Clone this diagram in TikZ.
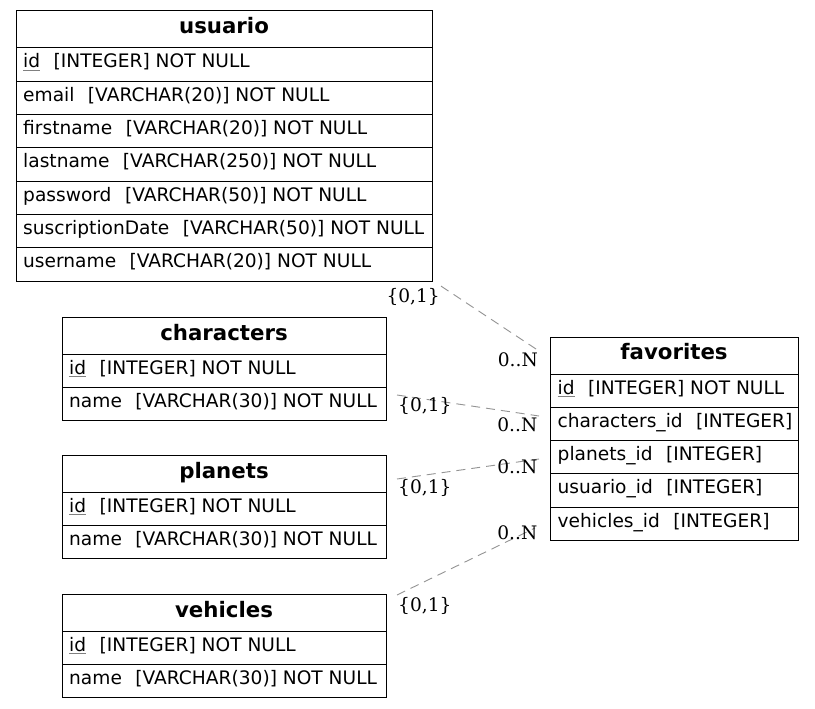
\documentclass[tikz,border=0pt]{standalone}
\usepackage{fontspec}
\setmainfont{DejaVu Sans}
\newfontfamily\cardfont{DejaVu Serif}
\usetikzlibrary{calc}
\newcommand\pkid{\setbox0\hbox{id}\rlap{\textcolor{gray}{\rule[-2.5pt]{\wd0}{1pt}}}\box0}
\newcommand\gap{\hspace{13.5pt}}
\tikzset{
  tbl/.style={draw=black, line width=1pt, inner sep=0pt, outer sep=0pt, anchor=north west},
  ttl/.style={font=\fontsize{21.3pt}{24pt}\selectfont\bfseries, anchor=base, inner sep=0pt},
  fld/.style={font=\fontsize{18.6pt}{22pt}\selectfont, anchor=base west, inner sep=0pt},
  sep/.style={draw=black, line width=1pt},
  rel/.style={draw=gray!85, dash pattern=on 9pt off 6pt, line width=0.9pt},
  card/.style={font=\fontsize{18.6pt}{22pt}\selectfont\cardfont, inner sep=0pt}
}
\begin{document}
\begin{tikzpicture}[x=1pt,y=-1pt]
\useasboundingbox (0,0) rectangle (815,709);
\fill[white] (0,0) rectangle (815,709);

% usuario
\node[tbl, minimum width=416pt, minimum height=270.1pt] (usuario) at (16,11) {};
\foreach \k in {0,...,6} \draw[sep] (16,48+33.3*\k) -- (432,48+33.3*\k);
\node[ttl] (usuarioT) at (224,33.5) {usuario};
\node[fld] (u1) at (23,68) {\pkid\gap[INTEGER] NOT NULL};
\node[fld] (u2) at (23,101.3) {email\gap[VARCHAR(20)] NOT NULL};
\node[fld] (u3) at (23,134.6) {firstname\gap[VARCHAR(20)] NOT NULL};
\node[fld] (u4) at (23,167.9) {lastname\gap[VARCHAR(250)] NOT NULL};
\node[fld] (u5) at (23,201.2) {password\gap[VARCHAR(50)] NOT NULL};
\node[fld] (u6) at (23,234.5) {suscriptionDate\gap[VARCHAR(50)] NOT NULL};
\node[fld] (u7) at (23,267.8) {username\gap[VARCHAR(20)] NOT NULL};

% characters
\node[tbl, minimum width=324pt, minimum height=103.6pt] (characters) at (62,317) {};
\foreach \k in {0,1} \draw[sep] (62,354+33.3*\k) -- (386,354+33.3*\k);
\node[ttl] (charactersT) at (224,340) {characters};
\node[fld] (c1) at (69,374) {\pkid\gap[INTEGER] NOT NULL};
\node[fld] (c2) at (69,407.3) {name\gap[VARCHAR(30)] NOT NULL};

% planets
\node[tbl, minimum width=324pt, minimum height=103.6pt] (planets) at (62,455) {};
\foreach \k in {0,1} \draw[sep] (62,492+33.3*\k) -- (386,492+33.3*\k);
\node[ttl] (planetsT) at (224,478) {planets};
\node[fld] (p1) at (69,512) {\pkid\gap[INTEGER] NOT NULL};
\node[fld] (p2) at (69,545.3) {name\gap[VARCHAR(30)] NOT NULL};

% vehicles
\node[tbl, minimum width=324pt, minimum height=103.6pt] (vehicles) at (62,594) {};
\foreach \k in {0,1} \draw[sep] (62,631+33.3*\k) -- (386,631+33.3*\k);
\node[ttl] (vehiclesT) at (224,617) {vehicles};
\node[fld] (v1) at (69,651) {\pkid\gap[INTEGER] NOT NULL};
\node[fld] (v2) at (69,684.3) {name\gap[VARCHAR(30)] NOT NULL};

% favorites
\node[tbl, minimum width=248pt, minimum height=203.5pt] (favorites) at (550,337) {};
\foreach \k in {0,...,4} \draw[sep] (550,374+33.3*\k) -- (798,374+33.3*\k);
\node[ttl] (favoritesT) at (674,359.5) {favorites};
\node[fld] (f1) at (557.5,394) {\pkid\gap[INTEGER] NOT NULL};
\node[fld] (f2) at (557.5,427.3) {characters\_id\gap[INTEGER]};
\node[fld] (f3) at (557.5,460.6) {planets\_id\gap[INTEGER]};
\node[fld] (f4) at (557.5,493.9) {usuario\_id\gap[INTEGER]};
\node[fld] (f5) at (557.5,527.2) {vehicles\_id\gap[INTEGER]};

% connector ends
\coordinate (e1a) at ($(usuario.south east)+(9,5)$);
\coordinate (e1b) at ($(favorites.north west)+(-11,14)$);
\coordinate (e2a) at ($(characters.north east)+(11,78)$);
\coordinate (e2b) at ($(favorites.north west)+(-11,79)$);
\coordinate (e3a) at ($(planets.north east)+(11,24)$);
\coordinate (e3b) at ($(favorites.north west)+(-11,122)$);
\coordinate (e4a) at ($(vehicles.north east)+(11,1)$);
\coordinate (e4b) at ($(favorites.north west)+(-15,191)$);

\draw[rel] (e1a) -- (e1b);
\draw[rel] (e2a) -- (e2b);
\draw[rel] (e3a) -- (e3b);
\draw[rel] (e4a) -- (e4b);

% cardinalities
\node[card, anchor=base east] (l1a) at (440,302) {\{0,1\}};
\node[card, anchor=base east] (l1b) at (538,366) {0..N};
\node[card, anchor=base west] (l2a) at (398,411.5) {\{0,1\}};
\node[card, anchor=base east] (l2b) at (537.5,431.5) {0..N};
\node[card, anchor=base west] (l3a) at (398,493.3) {\{0,1\}};
\node[card, anchor=base east] (l3b) at (537.5,473.3) {0..N};
\node[card, anchor=base west] (l4a) at (398,611.5) {\{0,1\}};
\node[card, anchor=base east] (l4b) at (537.5,539.3) {0..N};
\end{tikzpicture}
\end{document}
